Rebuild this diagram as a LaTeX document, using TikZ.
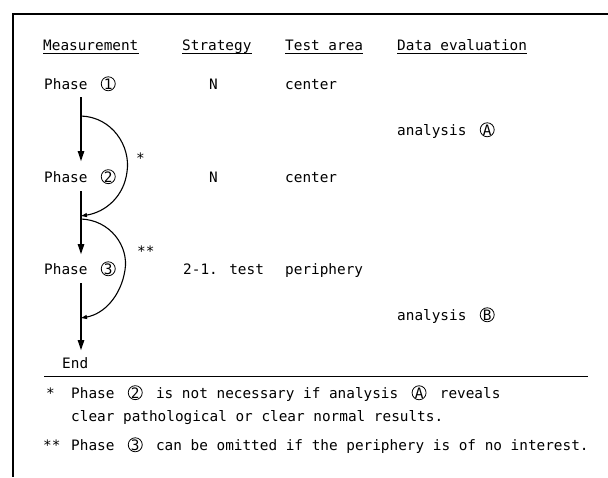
\documentclass[tikz,border=0pt]{standalone}
\usepackage{fontspec}
\setmainfont{DejaVu Sans Mono}
\usetikzlibrary{arrows.meta}

\newcommand{\textsz}{\fontsize{14.37}{17}\selectfont}
% circled digit/letter, a little under three character cells wide
\newcommand{\circnum}[1]{\makebox[1.69em]{\tikz[baseline=(cn.base)]\node[draw,circle,inner sep=0pt,minimum size=14pt,line width=0.8pt,font=\textsz](cn){#1};}}

\begin{document}
\begin{tikzpicture}[x=1pt,y=-1pt,
  txt/.style={font=\textsz, inner sep=0pt, anchor=base west},
  flow/.style={line width=2.4pt, -{Triangle[length=11pt,width=6pt]}},
  skip/.style={line width=1.1pt, -{Triangle[length=6pt,width=4pt]}},
  uline/.style={line width=0.8pt}]
\useasboundingbox (0,0) rectangle (608,477);

% frame
\draw[line width=2pt] (608,14) -- (13,14) -- (13,477);

% column headers
\node[txt] (hm) at (43,50) {Measurement};
\node[txt] (hs) at (182,50) {Strategy};
\node[txt] (ht) at (285,50) {Test area};
\node[txt] (hd) at (397,50) {Data evaluation};
\foreach \h in {hm,hs,ht,hd}
  \draw[uline] ([yshift=-3.5pt]\h.base west) -- ([yshift=-3.5pt]\h.base east);

% rows
\node[txt] (p1) at (44,89) {Phase \circnum{1}};
\node[txt] (s1) at (209,89) {N};
\node[txt] (t1) at (285,89) {center};
\node[txt] (aA) at (397,135) {analysis \circnum{A}};

\node[txt] (p2) at (44,182) {Phase \circnum{2}};
\node[txt] (s2) at (209,182) {N};
\node[txt] (t2) at (285,182) {center};

\node[txt] (p3) at (44,274) {Phase \circnum{3}};
\node[txt] (s3) at (183,274) {2-1. test};
\node[txt] (t3) at (285,274) {periphery};
\node[txt] (aB) at (397,320) {analysis \circnum{B}};

\node[txt] (end) at (62,368) {End};

% main flow
\coordinate (f1a) at (81,97);
\coordinate (f1b) at (81,162);
\coordinate (f2a) at (81,191);
\coordinate (f2b) at (81,255);
\coordinate (f3a) at (81,283);
\coordinate (f3b) at (81,351);
\draw[flow] (f1a) -- (f1b);
\draw[flow] (f2a) -- (f2b);
\draw[flow] (f3a) -- (f3b);

% optional skips
\coordinate (k1a) at (81,116);
\coordinate (k1b) at (81,216);
\coordinate (k2a) at (81,219);
\coordinate (k2b) at (81,318);
\draw[skip] (k1a) .. controls (112,117) and (131,146) .. (127,172)
            .. controls (124,196) and (106,212) .. (k1b);
\draw[skip] (k2a) .. controls (110,220) and (129,246) .. (125,270)
            .. controls (121,296) and (104,314) .. (k2b);
\node[txt] (st1) at (136,163) {*};
\node[txt] (st2) at (137,256) {**};

% footnotes
\coordinate (ra) at (44,376);
\coordinate (rb) at (588,376);
\draw[line width=0.8pt] (ra) -- (rb);
\node[txt] (n1s) at (46,398) {*};
\node[txt] (n1) at (71,398) {Phase \circnum{2} is not necessary if analysis \circnum{A} reveals};
\node[txt] (n1c) at (71,421) {clear pathological or clear normal results.};
\node[txt] (n2s) at (43,450) {**};
\node[txt] (n2) at (71,450) {Phase \circnum{3} can be omitted if the periphery is of no interest.};
\end{tikzpicture}
\end{document}
